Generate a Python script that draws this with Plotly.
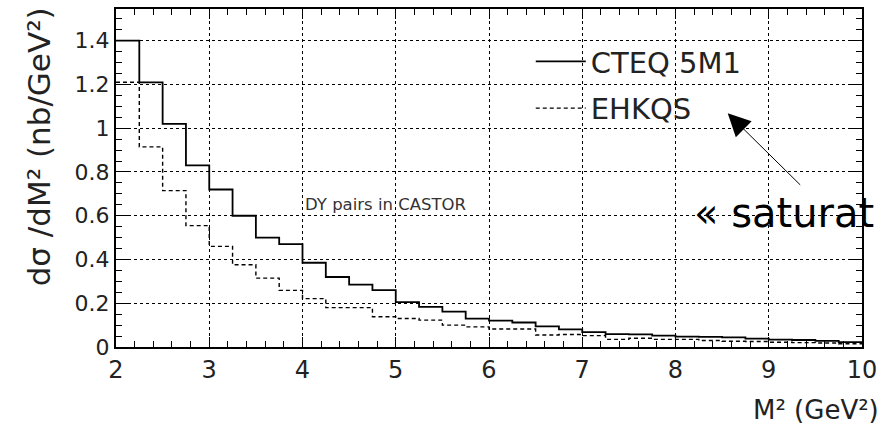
import plotly.graph_objects as go

# Lower bin edges in M^2 (GeV^2), bin width 0.25, plus the final upper edge
bin_edges = [2.00, 2.25, 2.50, 2.75, 3.00, 3.25, 3.50, 3.75,
             4.00, 4.25, 4.50, 4.75, 5.00, 5.25, 5.50, 5.75,
             6.00, 6.25, 6.50, 6.75, 7.00, 7.25, 7.50, 7.75,
             8.00, 8.25, 8.50, 8.75, 9.00, 9.25, 9.50, 9.75, 10.00]

# dsigma/dM^2 (nb/GeV^2) per bin
cteq5m1 = [1.40, 1.21, 1.02, 0.83, 0.72, 0.60, 0.50, 0.47,
           0.385, 0.32, 0.285, 0.26, 0.205, 0.183, 0.162, 0.130,
           0.121, 0.112, 0.094, 0.081, 0.068, 0.059, 0.058, 0.052,
           0.047, 0.046, 0.044, 0.038, 0.034, 0.032, 0.028, 0.022]

ehkqs = [1.21, 0.915, 0.715, 0.555, 0.46, 0.376, 0.315, 0.259,
         0.221, 0.180, 0.180, 0.138, 0.130, 0.123, 0.100, 0.092,
         0.082, 0.082, 0.055, 0.057, 0.052, 0.035, 0.040, 0.035,
         0.035, 0.030, 0.026, 0.025, 0.022, 0.020, 0.018, 0.015]

series_names = ["CTEQ 5M1", "EHKQS"]
x_ticks = [2, 3, 4, 5, 6, 7, 8, 9, 10]
y_ticks = [0, 0.2, 0.4, 0.6, 0.8, 1, 1.2, 1.4]

FONT = "DejaVu Sans"
INK = "#222222"

fig = go.Figure()

# step histograms: repeat the last bin value so the final bin reaches x=10
fig.add_trace(go.Scatter(
    x=bin_edges, y=cteq5m1 + [cteq5m1[-1]], mode="lines", line_shape="hv",
    name=series_names[0], legendgroup="a",
    line=dict(color="black", width=1.8)))
fig.add_trace(go.Scatter(
    x=bin_edges, y=ehkqs + [ehkqs[-1]], mode="lines", line_shape="hv",
    name=series_names[1], legendgroup="b",
    line=dict(color="black", width=1.4, dash="4px,3px")))

axis_common = dict(
    showline=True, linecolor="black", linewidth=2, mirror="ticks",
    ticks="inside", tickcolor="black", tickwidth=1.2,
    showgrid=True, gridcolor="black", gridwidth=1, griddash="dot",
    zeroline=False, tickfont=dict(family=FONT, color=INK),
)

fig.update_xaxes(
    **axis_common, range=[2, 10], tickvals=x_ticks, ticklen=10,
    minor=dict(dtick=0.2, ticks="inside", ticklen=6, tickcolor="black", showgrid=False),
)
fig.update_xaxes(tickfont_size=24)
fig.update_yaxes(
    **axis_common, range=[0, 1.545], tickvals=y_ticks, ticklen=12,
    minor=dict(dtick=0.05, ticks="inside", ticklen=6, tickcolor="black", showgrid=False),
)
fig.update_yaxes(tickfont_size=22)

fig.update_layout(
    width=884, height=429,
    margin=dict(l=116, r=22, t=7, b=82),
    paper_bgcolor="white", plot_bgcolor="white",
    font=dict(family=FONT, color=INK),
    legend=dict(x=0.556, y=0.92, xanchor="left", yanchor="top", itemwidth=50,
                bgcolor="rgba(0,0,0,0)", font=dict(size=29, family=FONT, color=INK),
                traceorder="grouped", tracegroupgap=6),
    annotations=[
        dict(text="dσ /dM² (nb/GeV²)", textangle=-90, xref="paper", yref="paper",
             x=-0.102, y=1.012, xanchor="center", yanchor="top", showarrow=False,
             font=dict(size=31, family=FONT, color=INK)),
        dict(text="M² (GeV²)", xref="paper", yref="paper",
             x=1.025, y=-0.185, xanchor="right", yanchor="middle", showarrow=False,
             font=dict(size=26, family=FONT, color=INK)),
        dict(text="DY pairs in CASTOR", xref="x", yref="y",
             x=4.0, y=0.65, xanchor="left", yanchor="middle", showarrow=False,
             font=dict(size=16.5, family=FONT, color="#333333")),
        dict(text="", xref="x", yref="y", x=8.56, y=1.068,
             showarrow=True, ax=74, ay=73, arrowhead=2, arrowsize=4.5,
             arrowwidth=1, arrowcolor="black", standoff=0),
        dict(text="« saturat", xref="paper", yref="paper",
             x=0.772, y=0.397, xanchor="left", yanchor="middle", showarrow=False,
             font=dict(size=40, family=FONT, color="black")),
    ],
)

fig.write_html("out.html")
